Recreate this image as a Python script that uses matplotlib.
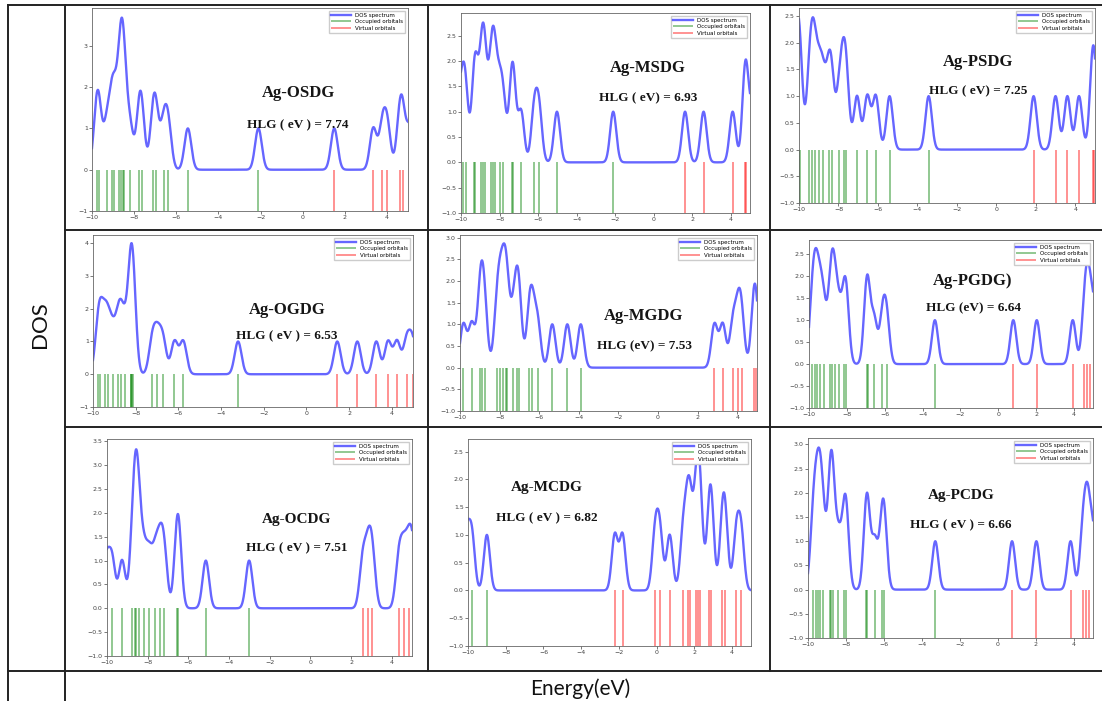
import numpy as np
import matplotlib
matplotlib.use("Agg")
import matplotlib.pyplot as plt
from matplotlib.ticker import MultipleLocator
from matplotlib.lines import Line2D

# panel names and gaps (row: S, G, C ; column: O, M, P)
names = ["Ag-OSDG", "Ag-MSDG", "Ag-PSDG",
         "Ag-OGDG", "Ag-MGDG", "Ag-PGDG)",
         "Ag-OCDG", "Ag-MCDG", "Ag-PCDG"]
hlg_labels = ["HLG ( eV ) = 7.74", "HLG ( eV) = 6.93", "HLG ( eV) = 7.25",
              "HLG ( eV ) = 6.53", "HLG (eV) = 7.53", "HLG (eV) = 6.64",
              "HLG ( eV ) = 7.51", "HLG ( eV ) = 6.82", "HLG ( eV ) = 6.66"]

# orbital energies (eV)
occ_osdg = [-9.78, -9.68, -9.3, -9.05, -8.95, -8.7, -8.62, -8.52, -8.5, -8.2,
            -7.75, -7.65, -7.1, -6.97, -6.6, -6.38, -5.45, -2.1]
vir_osdg = [1.5, 3.35, 3.78, 4.02, 4.6, 4.75, 5.1]

occ_msdg = [-10.15, -9.9, -9.76, -9.3, -9.25, -8.95, -8.85, -8.75, -8.45, -8.35, -8.22,
            -8.0, -7.8, -7.36, -7.29, -6.88, -6.2, -5.95, -5.02, -2.1]
vir_msdg = [1.63, 2.59, 4.1, 4.74, 4.8, 5.15]

occ_psdg = [-10.2, -10.02, -9.97, -9.48, -9.33, -9.2, -8.98, -8.78, -8.5, -8.34,
            -7.95, -7.74, -7.6, -7.06, -6.54, -6.11, -5.41, -3.43]
vir_psdg = [1.89, 3.0, 3.6, 4.19, 4.88, 4.95]

occ_ogdg = [-9.76, -9.66, -9.45, -9.3, -9.08, -8.82, -8.7, -8.5,
            -8.24, -8.2, -8.16, -8.12, -7.22, -6.98, -6.72, -6.18, -5.77, -3.2]
vir_ogdg = [1.45, 2.39, 3.28, 3.83, 4.25, 4.7, 4.98]

occ_mgdg = [-9.83, -9.41, -9.0, -8.9, -8.75, -8.15, -8.0, -7.85, -7.7, -7.62,
            -7.3, -7.1, -7.02, -6.5, -6.35, -6.08, -5.34, -4.58, -3.9]
vir_mgdg = [2.85, 3.27, 3.78, 4.05, 4.22, 4.85, 4.93]

occ_pgdg = [-9.85, -9.7, -9.58, -9.4, -9.22, -8.88, -8.77, -8.64, -8.42, -8.13, -8.02,
            -6.96, -6.9, -6.56, -6.12, -5.9, -3.35]
vir_pgdg = [0.79, 2.03, 3.93, 4.55, 4.7, 4.85, 5.1]

occ_ocdg = [-10.05, -9.75, -9.26, -8.75, -8.6, -8.55, -8.45, -8.2, -7.92, -7.62,
            -7.38, -7.18, -6.54, -6.49, -5.14, -3.01]
vir_ocdg = [2.58, 2.85, 3.05, 4.35, 4.6, 4.85, 5.05]

occ_mcdg = [-10.1, -9.8, -9.0]
vir_mcdg = [-2.22, -1.81, -0.08, 0.17, 0.69, 1.4, 1.65, 1.78, 2.08, 2.2, 2.32, 2.8, 2.9,
            3.48, 3.64, 4.22, 4.48]

occ_pcdg = [-9.75, -9.6, -9.45, -9.35, -9.2, -8.85, -8.77, -8.7, -8.4, -8.08, -7.98,
            -6.93, -6.87, -6.49, -6.1, -5.98, -3.3]
vir_pcdg = [0.74, 2.02, 3.82, 4.45, 4.65, 4.78, 5.05]

occ_all = [occ_osdg, occ_msdg, occ_psdg, occ_ogdg, occ_mgdg, occ_pgdg, occ_ocdg, occ_mcdg, occ_pcdg]
vir_all = [vir_osdg, vir_msdg, vir_psdg, vir_ogdg, vir_mgdg, vir_pgdg, vir_ocdg, vir_mcdg, vir_pcdg]
ystep = [1, 0.5, 0.5, 1, 0.5, 0.5, 0.5, 0.5, 0.5]

W, H = 1102, 701
fig = plt.figure(figsize=(W / 100, H / 100), dpi=100)


def box(x0, y0, x1, y1):
    return [x0 / W, 1 - y1 / H, (x1 - x0) / W, (y1 - y0) / H]


# axes boxes in pixels (left, top, right, bottom)
axes_px = [(92, 8, 408, 211), (461, 13, 750, 213), (799, 8, 1095, 203),
           (93, 235, 413, 407), (460, 235, 757, 411), (809, 240, 1093, 408),
           (107, 439, 412, 656), (468, 439, 751, 646), (808, 438, 1093, 638)]
# title / HLG text centres in pixels
title_px = [(298, 93, 125), (648, 68, 98), (978, 62, 91),
            (287, 310, 336), (644, 316, 346), (973, 281, 308),
            (297, 520, 548), (547, 488, 518), (961, 495, 525)]

sigma = 0.16
grid = np.linspace(-10, 5, 1501)


def dos(levels):
    e = np.array(levels)
    return np.exp(-(grid[:, None] - e[None, :]) ** 2 / (2 * sigma ** 2)).sum(axis=1)


for i in range(9):
    ax = fig.add_axes(box(*axes_px[i]))
    occ, vir = occ_all[i], vir_all[i]
    ax.plot(grid, dos(occ + vir), color="blue", alpha=0.6, lw=1.7, label="DOS spectrum")
    ax.vlines(occ, -1, 0, color="green", alpha=0.5, lw=1.2, label="Occupied orbitals")
    ax.vlines(vir, -1, 0, color="red", alpha=0.5, lw=1.2, label="Virtual orbitals")
    ax.set_xlim(-10, 5)
    ax.set_ylim(bottom=-1)
    ax.xaxis.set_major_locator(MultipleLocator(2))
    ax.yaxis.set_major_locator(MultipleLocator(ystep[i]))
    ax.tick_params(labelsize=4.5, length=2, width=0.5, pad=1, colors="#444")
    for s in ax.spines.values():
        s.set_linewidth(0.6)
        s.set_color("#666")
    ax.legend(loc="upper right", fontsize=4.0, handlelength=3.5, borderpad=0.4,
              labelspacing=0.25, framealpha=1, edgecolor="#ccc", fancybox=False)
    tx, ty1, ty2 = title_px[i]
    fs1 = 12 if i < 6 else 11
    fig.text(tx / W, 1 - ty1 / H, names[i], ha="center", va="center",
             family="Liberation Serif", weight="bold", fontsize=fs1, color="#151515")
    fig.text(tx / W, 1 - ty2 / H, hlg_labels[i], ha="center", va="center",
             family="Liberation Serif", weight="bold", fontsize=9.5, color="#151515")

# table frame
def hline(y, x0, x1):
    fig.add_artist(Line2D([x0 / W, x1 / W], [1 - y / H, 1 - y / H], color="#222", lw=1.4))


def vline(x, y0, y1):
    fig.add_artist(Line2D([x / W, x / W], [1 - y0 / H, 1 - y1 / H], color="#222", lw=1.4))


hline(5, 8, 1102)
hline(230, 65, 1102)
hline(427, 65, 1102)
hline(671, 8, 1102)
vline(8, 5, 701)
vline(65, 5, 701)
vline(428, 5, 671)
vline(770, 5, 671)

fig.text(40 / W, 1 - 325 / H, "DOS", rotation=90, ha="center", va="center",
         family="Lato", fontsize=16, color="#111")
fig.text(580 / W, 1 - 689 / H, "Energy(eV)", ha="center", va="center",
         family="Lato", fontsize=15, color="#111")

fig.savefig("out.png", dpi=100)
